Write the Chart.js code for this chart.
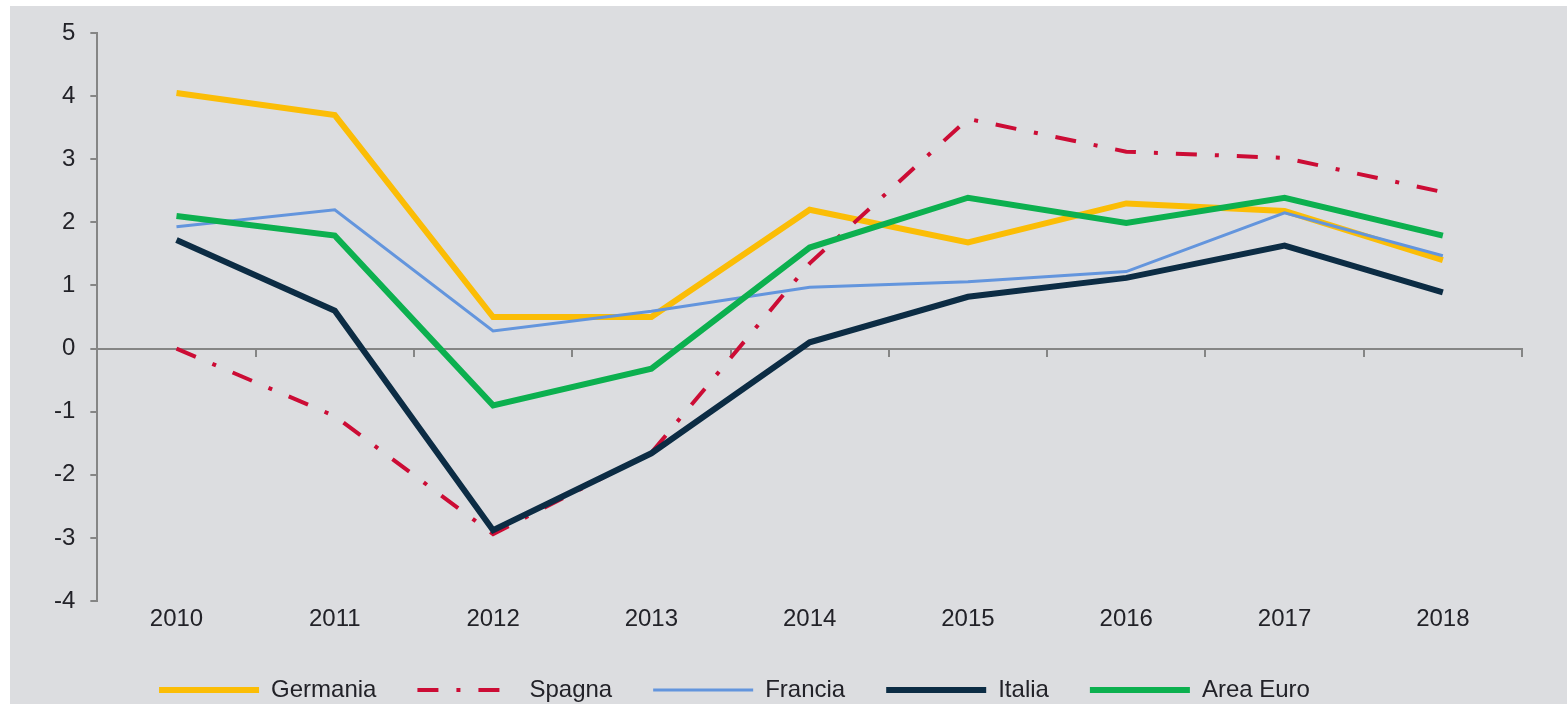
<!DOCTYPE html>
<html>
<head>
<meta charset="utf-8">
<script src="https://cdn.jsdelivr.net/npm/chart.js@4.4.1/dist/chart.umd.min.js"></script>
<style>
  html, body { margin: 0; padding: 0; background: #ffffff; }
  #wrap { position: absolute; left: 10px; top: 6px; width: 1557px; height: 698px; background: #dcdde0; }
</style>
</head>
<body>
<div id="wrap"><canvas id="myChart"></canvas></div>
<script>
// anni
let years = ['2010', '2011', '2012', '2013', '2014', '2015', '2016', '2017', '2018'];

// crescita PIL, valori
let germania = [4.05, 3.7, 0.5, 0.5, 2.2, 1.68, 2.3, 2.18, 1.4];
let spagna = [0.0, -1.07, -2.94, -1.65, 1.35, 3.64, 3.12, 3.02, 2.48];
let francia = [1.93, 2.2, 0.28, 0.59, 0.97, 1.06, 1.22, 2.15, 1.47];
let italia = [1.72, 0.6, -2.88, -1.66, 0.1, 0.82, 1.12, 1.63, 0.89];
let areaEuro = [2.1, 1.79, -0.9, -0.32, 1.6, 2.39, 1.99, 2.39, 1.79];

let yTicks = [-4, -3, -2, -1, 0, 1, 2, 3, 4, 5];

let axisGrey = '#858585';
let textColor = '#222228';

function serie(label, data, color, width, order) {
  return {
    label: label,
    data: data,
    borderColor: color,
    backgroundColor: color,
    borderWidth: width,
    tension: 0,
    fill: false,
    pointRadius: 0,
    pointHoverRadius: 0,
    order: order
  };
}

let Germania = serie('Germania', germania, '#fbbd06', 6, 5);
let Spagna = serie('Spagna', spagna, '#cc0c35', 4, 4);
Spagna.borderDash = [21, 18, 4, 18];
let Francia = serie('Francia', francia, '#6395dd', 3, 3);
let Italia = serie('Italia', italia, '#0c2c44', 6, 2);
let AreaEuro = serie('Area Euro', areaEuro, '#0cb04f', 6, 1);

// sposta la legenda un po' a sinistra come nell'originale
const shiftLegend = {
  id: 'shiftLegend',
  afterLayout(chart) {
    chart.legend.left -= 46;
    chart.legend.right -= 46;
  }
};

let ctx = document.getElementById('myChart').getContext('2d');

let chart = new Chart(ctx, {
  type: 'line',
  data: {
    labels: years,
    datasets: [Germania, Spagna, Francia, Italia, AreaEuro]
  },
  plugins: [shiftLegend],
  options: {
    responsive: true,
    maintainAspectRatio: false,
    animation: false,
    layout: { padding: { top: 25, left: 29, right: 45, bottom: -8 } },
    plugins: {
      title: { display: false },
      tooltip: { enabled: false },
      legend: {
        position: 'bottom',
        labels: {
          usePointStyle: true,
          pointStyle: 'line',
          pointStyleWidth: 100,
          boxWidth: 100,
          padding: 41,
          color: textColor,
          font: { family: 'Liberation Sans, Arial, sans-serif', size: 24 },
          sort: (a, b) => a.datasetIndex - b.datasetIndex,
          generateLabels: (chart) => {
            let items = Chart.defaults.plugins.legend.labels.generateLabels(chart);
            items.forEach(it => {
              let ds = chart.data.datasets[it.datasetIndex];
              it.lineDash = ds.borderDash || [];
              it.lineWidth = ds.borderWidth;
              it.strokeStyle = ds.borderColor;
            });
            return items;
          }
        }
      }
    },
    scales: {
      x: {
        type: 'category',
        offset: true,
        grid: { display: false, drawTicks: false },
        border: { display: false },
        ticks: {
          color: textColor,
          padding: 6,
          font: { family: 'Liberation Sans, Arial, sans-serif', size: 24, lineHeight: 1 }
        }
      },
      x0: {
        type: 'category',
        labels: years,
        offset: true,
        position: { y: 0 },
        grid: { offset: true, drawOnChartArea: false, drawTicks: true, tickLength: 7, color: axisGrey, lineWidth: 2 },
        border: { display: true, color: axisGrey, width: 2 },
        ticks: { display: false }
      },
      y: {
        min: -4,
        max: 5,
        afterBuildTicks: (axis) => { axis.ticks = yTicks.map(v => ({ value: v })); },
        grid: { drawOnChartArea: false, drawTicks: true, tickLength: 7, color: axisGrey, lineWidth: 2 },
        border: { display: true, color: axisGrey, width: 2 },
        ticks: {
          color: textColor,
          padding: 15,
          font: { family: 'Liberation Sans, Arial, sans-serif', size: 24, lineHeight: 1 }
        }
      }
    }
  }
});
</script>
</body>
</html>
